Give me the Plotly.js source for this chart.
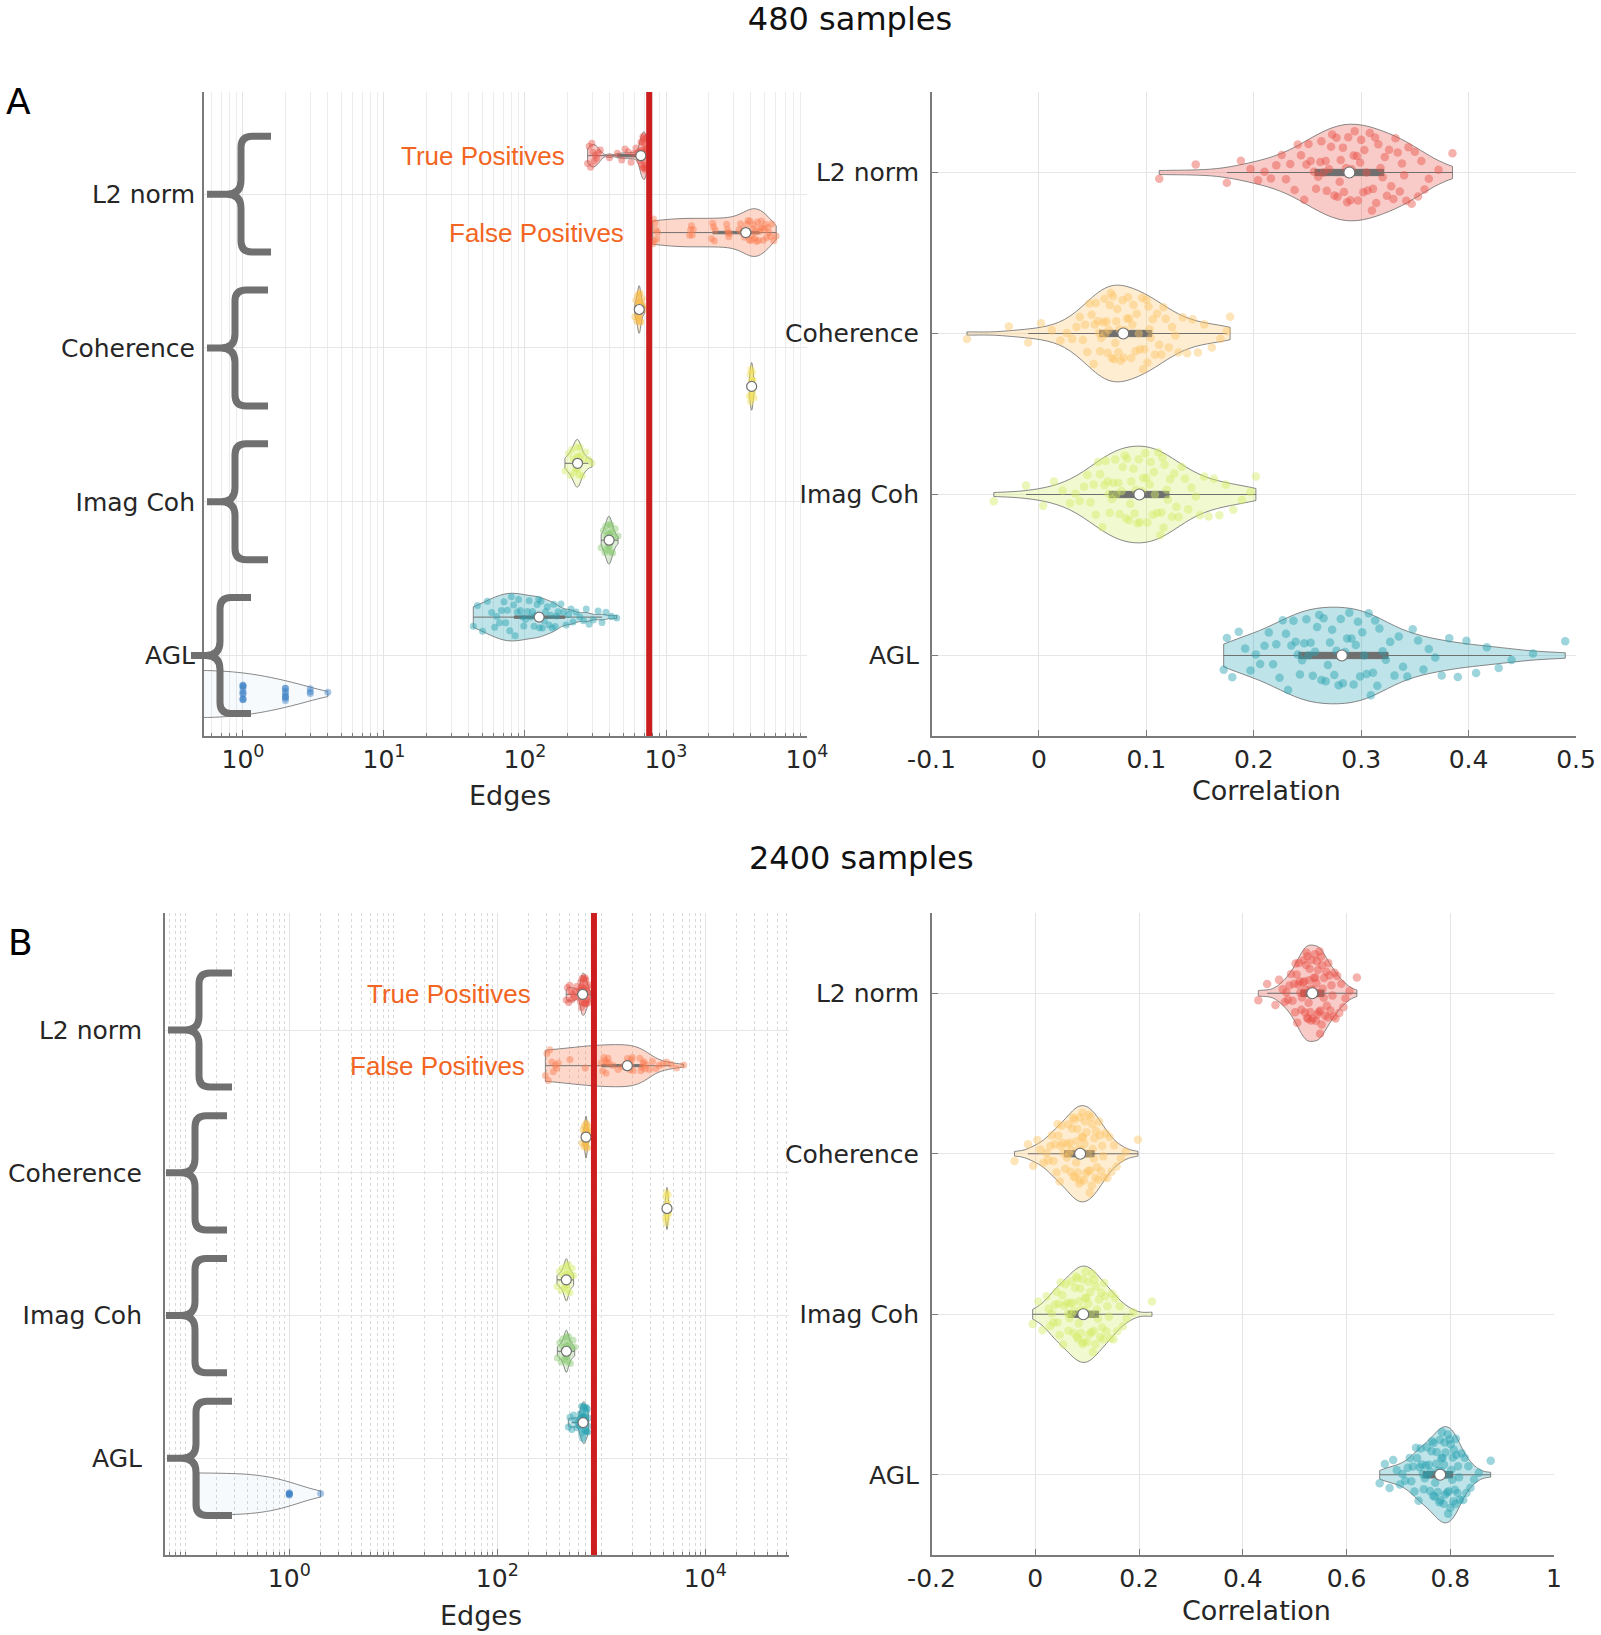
<!DOCTYPE html>
<html><head><meta charset="utf-8">
<script src="https://cdn.plot.ly/plotly-3.0.1.min.js"></script>
<style>html,body{margin:0;padding:0;background:#fff}#chart{width:1601px;height:1635px}</style>
</head><body><div id="chart"></div>
<script>
// ---------------- DATA ----------------
const methods = ['L2 norm', 'Coherence', 'Imag Coh', 'AGL'];
const panelTitles = ['480 samples', '2400 samples'];
const panelLetters = ['A', 'B'];
const tpLabel = 'True Positives';
const fpLabel = 'False Positives';
const edgesTitle = 'Edges';
const corrTitle = 'Correlation';

const edgeTicksA = [1, 10, 100, 1000, 10000];
const edgeTickTextA = ['10<sup>0</sup>', '10<sup>1</sup>', '10<sup>2</sup>', '10<sup>3</sup>', '10<sup>4</sup>'];
const edgeTicksB = [1, 100, 10000];
const edgeTickTextB = ['10<sup>0</sup>', '10<sup>2</sup>', '10<sup>4</sup>'];
const corrTicksA = [-0.1, 0, 0.1, 0.2, 0.3, 0.4, 0.5];
const corrTickTextA = ['-0.1', '0', '0.1', '0.2', '0.3', '0.4', '0.5'];
const corrTicksB = [-0.2, 0, 0.2, 0.4, 0.6, 0.8, 1];
const corrTickTextB = ['-0.2', '0', '0.2', '0.4', '0.6', '0.8', '1'];

const trueEdgesA = 760;
const trueEdgesB = 850;

// Panel A (480 samples): edges, true positives / false positives
const a_tp_l2 = [278,285,292,298,303,309,315,322,330,342,398,452,485,512,538,565,590,612,630,645,
  652,657,661,665,668,672,675,679,682,686,689,692,695,698,701,704,707,710,713,716,719,722,726,730,735,742];
const a_fp_l2 = [805,815,825,835,845,858,870,1470,1495,1515,1535,1560,2110,2145,2175,2205,2235,2690,2725,2755,2785,2815,
  3300,3380,3460,3540,3610,3680,3750,3820,3890,3950,4010,4070,4130,4190,4250,4310,4380,4450,4520,
  4590,4660,4740,4820,4900,4990,5080,5170,5270,5380,5500,5640,5820,6050];
const a_tp_coh = [602,612,620,626,631,635,638,641,643,645,647,649,652,655,659,664,670,678,690,706];
const a_fp_coh = [3900,3950,3980,4000,4020,4035,4050,4065,4080,4100,4120,4150,4210];
const a_tp_ic = [192,203,210,215,220,224,227,230,233,235,237,240,243,246,250,255,262,270,282,299];
const a_fp_ic = [347,360,368,374,379,383,387,390,393,395,397,400,404,408,413,419,427,437,457];
const a_tp_agl = [43,46,50,54,58,61,63,66,68,71,73,75,78,80,83,85,88,90,93,96,
  98,101,104,107,110,113,116,119,122,125,127,130,133,137,140,144,148,152,156,160,164,167,
  172,180,188,196,204,212,219,230,245,260,272,285,305,330,352,375,410,447];
const a_fp_agl = [0,0,0,0,0,0,0,0,0,0,0,0,0,0,0,0,0,0,0,0,0,0,0,1,1,1,1,1,1,1,1,1,1,2,2,2,2,2,2,2,2,3,3,3,4];

// Panel A: correlation
const a_r_l2 = [0.112,0.146,0.175,0.188,0.197,0.204,0.210,0.216,0.221,0.226,0.230,0.234,0.238,0.241,0.244,0.247,0.249,0.251,0.253,0.256,
  0.258,0.260,0.262,0.263,0.265,0.267,0.268,0.270,0.272,0.273,0.275,0.277,0.278,0.280,0.281,0.283,0.284,0.286,0.287,0.288,
  0.290,0.291,0.293,0.294,0.296,0.297,0.299,0.300,0.302,0.303,0.305,0.306,0.308,0.310,0.311,0.313,0.314,0.316,0.318,0.320,
  0.322,0.324,0.326,0.328,0.330,0.332,0.334,0.336,0.338,0.340,0.342,0.344,0.347,0.350,0.353,0.356,0.359,0.363,0.372,0.385];
const a_r_coh = [-0.067,-0.028,-0.010,0.002,0.012,0.020,0.026,0.031,0.035,0.038,0.041,0.043,0.045,0.047,0.049,0.051,0.052,0.053,0.055,0.056,
  0.057,0.058,0.060,0.061,0.062,0.063,0.064,0.065,0.066,0.067,0.068,0.069,0.070,0.071,0.072,0.073,0.074,0.075,0.076,0.078,
  0.079,0.080,0.082,0.083,0.084,0.086,0.087,0.088,0.090,0.091,0.093,0.094,0.096,0.097,0.098,0.100,0.101,0.102,0.103,0.104,
  0.106,0.108,0.110,0.112,0.114,0.116,0.118,0.121,0.124,0.127,0.130,0.134,0.138,0.143,0.148,0.154,0.161,0.169,0.175,0.178];
const a_r_ic = [-0.042,-0.012,0.004,0.014,0.022,0.029,0.034,0.038,0.042,0.045,0.048,0.051,0.053,0.055,0.057,0.059,0.061,0.062,0.064,0.065,
  0.066,0.068,0.069,0.071,0.072,0.074,0.075,0.077,0.078,0.080,0.081,0.082,0.084,0.085,0.086,0.088,0.089,0.090,0.092,0.093,
  0.094,0.096,0.097,0.099,0.100,0.101,0.103,0.104,0.106,0.107,0.108,0.110,0.111,0.113,0.114,0.115,0.116,0.117,0.119,0.120,
  0.122,0.124,0.126,0.128,0.130,0.133,0.136,0.139,0.142,0.146,0.150,0.154,0.158,0.163,0.168,0.174,0.181,0.189,0.197,0.202];
const a_r_agl = [0.172,0.175,0.180,0.186,0.192,0.197,0.202,0.206,0.210,0.214,0.218,0.221,0.224,0.227,0.230,0.232,0.235,0.237,0.239,0.241,
  0.243,0.245,0.247,0.249,0.251,0.253,0.255,0.257,0.259,0.261,0.263,0.265,0.267,0.269,0.271,0.273,0.275,0.277,0.279,0.281,
  0.283,0.285,0.287,0.289,0.291,0.293,0.295,0.297,0.299,0.301,0.303,0.305,0.307,0.309,0.311,0.313,0.315,0.317,0.320,0.323,
  0.327,0.331,0.335,0.339,0.343,0.348,0.353,0.358,0.363,0.369,0.375,0.382,0.390,0.398,0.407,0.417,0.428,0.440,0.460,0.490];

// Panel B (2400 samples): edges
const b_tp_l2 = [460,472,485,497,510,522,535,548,562,578,600,618,630,635,640,644,648,652,656,660,664,668,672,676,
  680,684,688,692,696,700,705,710,715,720,726,732,740,750,765,784];
const b_fp_l2 = [290,300,310,320,335,345,360,372,385,500,700,1000,1030,1060,1090,1110,1135,1160,1185,1300,1450,1600,1750,
  1780,1820,1860,1890,1920,1950,1985,2030,2350,2410,2460,2520,2570,2630,2700,
  2900,3100,3350,3600,3900,4250,4700,5300,6200];
const b_tp_coh = [652,668,680,689,696,701,705,708,711,713,715,718,721,725,730,737,746,758,780];
const b_fp_coh = [4120,4170,4210,4240,4260,4280,4300,4320,4350,4390,4440];
const b_tp_ic = [375,395,410,422,432,440,447,453,458,461,464,469,475,482,490,500,512,526,542];
const b_fp_ic = [378,398,413,425,434,442,449,455,459,462,466,471,477,485,494,505,518,535,555];
const b_tp_agl = [482,500,520,540,560,580,598,615,622,628,634,640,645,650,655,660,664,668,672,676,
  680,684,688,692,696,700,705,710,715,720,726,732,738,744,750];
const b_fp_agl = [0,0,0,0,0,0,0,0,0,0,0,0,0,0,0,0,0,0,0,0,1,1,1,1,1,2];

// Panel B: correlation
const b_r_l2 = [0.430,0.447,0.463,0.470,0.477,0.481,0.484,0.487,0.490,0.493,0.496,0.499,
  0.501,0.502,0.504,0.505,0.507,0.508,0.510,0.511,0.513,0.514,0.516,0.517,0.518,0.519,
  0.520,0.521,0.522,0.523,0.524,0.525,0.526,0.527,0.528,0.529,0.530,0.531,0.532,0.533,0.535,0.536,0.537,0.539,
  0.540,0.541,0.542,0.543,0.544,0.545,0.546,0.547,0.548,0.549,0.550,0.551,0.552,0.553,0.554,0.556,0.557,0.559,
  0.561,0.562,0.564,0.565,0.567,0.569,0.571,0.573,0.575,0.577,0.579,0.582,0.586,0.590,0.594,0.598,0.606,0.620];
const b_r_coh = [-0.040,-0.014,-0.004,0.004,0.010,0.016,0.022,0.025,0.029,0.032,0.035,0.038,
  0.041,0.043,0.045,0.047,0.049,0.051,0.053,0.055,0.058,
  0.061,0.062,0.064,0.065,0.067,0.068,0.070,0.071,0.073,0.074,0.076,0.077,0.079,
  0.080,0.081,0.082,0.084,0.085,0.086,0.087,0.089,0.090,0.091,0.092,0.094,0.095,0.096,0.098,0.099,
  0.101,0.102,0.103,0.105,0.106,0.107,0.109,0.110,0.111,0.113,0.114,0.116,0.117,0.119,
  0.121,0.123,0.125,0.127,0.129,0.131,0.133,0.136,0.139,0.143,0.147,0.152,0.157,0.165,0.174,0.198];
const b_r_ic = [-0.005,0.006,0.014,0.022,0.026,0.029,0.032,0.035,0.038,
  0.041,0.043,0.045,0.047,0.049,0.052,0.054,0.056,0.058,
  0.061,0.063,0.064,0.066,0.067,0.069,0.070,0.072,0.074,0.075,0.077,0.079,
  0.080,0.081,0.083,0.084,0.085,0.087,0.088,0.089,0.091,0.092,0.093,0.095,0.096,0.097,0.099,
  0.100,0.102,0.103,0.104,0.106,0.107,0.108,0.110,0.111,0.113,0.114,0.116,0.117,0.119,
  0.121,0.123,0.125,0.127,0.129,0.131,0.133,0.135,0.137,0.139,
  0.142,0.145,0.148,0.151,0.154,0.158,0.163,0.169,0.176,0.189,0.225];
const b_r_agl = [0.664,0.674,0.683,0.690,0.697,0.703,0.708,0.713,0.718,
  0.722,0.725,0.728,0.731,0.734,0.736,0.739,
  0.741,0.743,0.745,0.747,0.749,0.751,0.753,0.755,0.757,0.759,
  0.761,0.762,0.764,0.765,0.767,0.768,0.770,0.771,0.773,0.774,0.776,0.777,0.779,
  0.780,0.781,0.782,0.783,0.784,0.785,0.787,0.788,0.789,0.790,0.791,0.792,0.794,0.795,0.796,0.797,0.799,
  0.800,0.801,0.802,0.804,0.805,0.806,0.807,0.809,0.810,0.811,0.812,0.814,0.815,0.817,0.819,
  0.822,0.825,0.828,0.831,0.835,0.839,0.846,0.855,0.878];

// ---------------- STYLE ----------------
const W = 1601, H = 1635;
const FONT = 'DejaVu Sans';
const GRAYLINE = 'rgba(115,115,115,0.85)';
const BOXGRAY = '#6f6f6f';
const AXISGRAY = '#7a7a7a';
const colL2 = [232, 82, 72], colL2fp = [250, 125, 80];
const colCoh = [246, 186, 70], colCohFp = [242, 224, 85];
const colCohR = [252, 196, 100];
const colIc = [210, 236, 100], colIcFp = [135, 200, 110];
const colAgl = [40, 162, 178], colAglFp = [60, 128, 198];
const rgba = (c, a) => `rgba(${c[0]},${c[1]},${c[2]},${a})`;

function med(a) {
  const s = [...a].sort((p, q) => p - q), n = s.length;
  return n % 2 ? s[(n - 1) / 2] : (s[n / 2 - 1] + s[n / 2]) / 2;
}

function violin(vals, pos, color, o) {
  const t = {
    type: 'violin', orientation: 'h', x: vals, y0: pos,
    xaxis: o.xa, yaxis: o.ya, width: o.width, side: 'both',
    scalemode: 'width', spanmode: o.span ? 'manual' : 'hard', span: o.span,
    bandwidth: o.bw,
    fillcolor: rgba(color, o.fillA === undefined ? 0.3 : o.fillA),
    line: { color: GRAYLINE, width: 1 },
    points: 'all', pointpos: 0, jitter: 0.9,
    marker: { size: o.ms, color: rgba(color, 0.45), line: { width: 0 } },
    box: { visible: o.box !== false, width: o.boxW, fillcolor: BOXGRAY, line: { color: BOXGRAY, width: 1 } },
    meanline: { visible: false },
    hoverinfo: 'skip', showlegend: false
  };
  if (o.logAxis) {
    // zero counts cannot be placed on a log axis: keep them for the density, hide their dots
    const keep = [];
    vals.forEach((v, i) => { if (v > 0) keep.push(i); });
    if (keep.length < vals.length) {
      t.selectedpoints = keep;
      t.selected = { marker: { opacity: 1 } };
      t.unselected = { marker: { opacity: 0 } };
    }
  }
  return t;
}

const traces = [];
const leftRows = [1, 2, 3, 4, 5, 6, 7, 8];
const leftColors = [colL2, colL2fp, colCoh, colCohFp, colIc, colIcFp, colAgl, colAglFp];
const leftA = [a_tp_l2, a_fp_l2, a_tp_coh, a_fp_coh, a_tp_ic, a_fp_ic, a_tp_agl, a_fp_agl];
const leftB = [b_tp_l2, b_fp_l2, b_tp_coh, b_fp_coh, b_tp_ic, b_fp_ic, b_tp_agl, b_fp_agl];
const bwA = [18, 600, 12, 60, 9, 14, 14, 0.9];
const bwB = [15, 550, 12, 50, 14, 15, 15, 0.7];

function addLeft(sets, bws, xa, ya, lastSpan, width) {
  const mx = [], my = [];
  sets.forEach((vals, i) => {
    const last = i === 7;
    traces.push(violin(vals, leftRows[i], leftColors[i], {
      xa, ya, width, bw: bws[i], ms: 7, boxW: 0.05, logAxis: true,
      span: last ? lastSpan : undefined, box: !last, fillA: last ? 0.04 : 0.3
    }));
    const m = med(vals);
    if (m > 0) { mx.push(m); my.push(leftRows[i]); }
  });
  traces.push({ type: 'scatter', mode: 'markers', x: mx, y: my, xaxis: xa, yaxis: ya,
    marker: { color: 'white', size: 10, line: { color: BOXGRAY, width: 1.2 } }, hoverinfo: 'skip', showlegend: false });
}
function addRight(sets, colors, bws, xa, ya) {
  const mx = [], my = [];
  sets.forEach((vals, i) => {
    traces.push(violin(vals, i + 1, colors[i], { xa, ya, width: 0.6, bw: bws[i], ms: 8.5, boxW: 0.065 }));
    mx.push(med(vals)); my.push(i + 1);
  });
  traces.push({ type: 'scatter', mode: 'markers', x: mx, y: my, xaxis: xa, yaxis: ya,
    marker: { color: 'white', size: 11, line: { color: BOXGRAY, width: 1.2 } }, hoverinfo: 'skip', showlegend: false });
}

addLeft(leftA, bwA, 'x', 'y', [0.4, 4], 0.62);
addRight([a_r_l2, a_r_coh, a_r_ic, a_r_agl], [colL2, colCohR, colIc, colAgl], [0.018, 0.016, 0.018, 0.02], 'x2', 'y2');
addLeft(leftB, bwB, 'x3', 'y3', [0.135, 2], 0.59);
addRight([b_r_l2, b_r_coh, b_r_ic, b_r_agl], [colL2, colCohR, colIc, colAgl], [0.01, 0.014, 0.014, 0.012], 'x4', 'y4');

// ---------------- LAYOUT ----------------
const tickFont = { family: FONT, size: 25, color: '#262626' };
const base = {
  showline: true, linecolor: AXISGRAY, linewidth: 1.5, mirror: false, zeroline: false,
  ticks: 'inside', ticklen: 6, tickcolor: AXISGRAY, tickfont: tickFont,
  showgrid: true, gridcolor: '#e4e4e4', gridwidth: 1, automargin: false, fixedrange: true
};
const fx = p => p / W, fy = p => 1 - p / H;
const domAy = [fy(736), fy(92)], domBy = [fy(1555), fy(913)];

function logAxis(dom, range, tv, tt, minorDash, anchor) {
  return Object.assign({}, base, {
    type: 'log', domain: dom, range, anchor, tickmode: 'array', tickvals: tv, ticktext: tt,
    minor: { tickmode: 'linear', dtick: 'D1', ticks: 'inside', ticklen: 3, tickcolor: AXISGRAY,
      showgrid: true, gridcolor: minorDash ? '#d9d9d9' : '#ececec', griddash: minorDash ? 'dot' : 'solid' }
  });
}
function linAxis(dom, range, tv, tt, anchor) {
  return Object.assign({}, base, { type: 'linear', domain: dom, range, anchor,
    tickmode: 'array', tickvals: tv, ticktext: tt });
}
function catAxis(dom, range, tv, anchor, standoff, ticks) {
  return Object.assign({}, base, { type: 'linear', domain: dom, range, anchor,
    tickmode: 'array', tickvals: tv, ticktext: methods, ticks, ticklabelstandoff: standoff, gridcolor: '#e6e6e6' });
}
function textAnn(text, xPx, yPx, size, color, xanchor) {
  return { text, xref: 'paper', yref: 'paper', x: fx(xPx), y: fy(yPx), xanchor: xanchor || 'center', yanchor: 'middle',
    showarrow: false, font: { family: FONT, size, color } };
}
const orange = 'rgb(242,101,34)';
function groupAnn(text, xa, ya, xd, row) {
  return { text, xref: xa + ' domain', yref: ya, x: xd, y: row, xanchor: 'right', yanchor: 'middle', showarrow: false,
    font: { family: 'Liberation Sans', size: 26, color: orange } };
}

const layout = {
  width: W, height: H, margin: { l: 0, r: 0, t: 0, b: 0 },
  paper_bgcolor: '#fff', plot_bgcolor: '#fff', violinmode: 'overlay', showlegend: false,
  title: { text: panelTitles[0], x: fx(850), xanchor: 'center', y: fy(19), yanchor: 'middle',
    font: { family: FONT, size: 32, color: '#111' } },
  xaxis: logAxis([fx(203.5), fx(807)], [-0.28, 4], edgeTicksA, edgeTickTextA, false, 'y'),
  yaxis: catAxis(domAy, [8.546, 0.172], [1.5, 3.5, 5.5, 7.5], 'x', 2, ''),
  xaxis2: linAxis([fx(931.5), fx(1576)], [-0.1, 0.5], corrTicksA, corrTickTextA, 'y2'),
  yaxis2: catAxis(domAy, [4.5, 0.5], [1, 2, 3, 4], 'x2', 6, 'inside'),
  xaxis3: logAxis([fx(164.5), fx(788.5)], [-1.2, 4.8], edgeTicksB, edgeTickTextB, true, 'y3'),
  yaxis3: catAxis(domBy, [8.854, -0.139], [1.5, 3.5, 5.5, 7.5], 'x3', 16, ''),
  xaxis4: linAxis([fx(931.5), fx(1554)], [-0.2, 1], corrTicksB, corrTickTextB, 'y4'),
  yaxis4: catAxis(domBy, [4.5, 0.5], [1, 2, 3, 4], 'x4', 6, 'inside'),
  annotations: [
    textAnn(panelTitles[1], 861, 858, 32, '#111'),
    textAnn(panelLetters[0], 4, 101, 36, '#000', 'left'),
    textAnn(panelLetters[1], 6, 942, 36, '#000', 'left'),
    textAnn(edgesTitle, 510, 796, 27, '#262626'),
    textAnn(corrTitle, 1266, 790, 27, '#262626'),
    textAnn(edgesTitle, 481, 1615, 27, '#262626'),
    textAnn(corrTitle, 1256, 1610, 27, '#262626'),
    groupAnn(tpLabel, 'x', 'y', 0.6023, 1),
    groupAnn(fpLabel, 'x', 'y', 0.700, 2),
    groupAnn(tpLabel, 'x3', 'y3', 0.5905, 1),
    groupAnn(fpLabel, 'x3', 'y3', 0.581, 2)
  ],
  shapes: []
};

// true-edge reference lines (log axis: shape coordinates are data values in Plotly v3)
layout.shapes.push({ type: 'line', xref: 'x', yref: 'y domain', x0: trueEdgesA, x1: trueEdgesA,
  y0: 0, y1: 1, line: { color: 'rgb(204,30,30)', width: 6 }, layer: 'above' });
layout.shapes.push({ type: 'line', xref: 'x3', yref: 'y3 domain', x0: trueEdgesB, x1: trueEdgesB,
  y0: 0, y1: 1, line: { color: 'rgb(204,30,30)', width: 6 }, layer: 'above' });

// curly braces grouping TP / FP rows of each method
function bracePath(cx, vx, tx, c, h, unitPx) {
  const rx = 11, ry = 11 / unitPx, sx = 14, sy = 14 / unitPx;
  const X = p => (p / W).toFixed(5);
  return `M${X(tx)},${c - h} L${X(vx + rx)},${c - h} Q${X(vx)},${c - h} ${X(vx)},${c - h + ry} ` +
    `L${X(vx)},${c - sy} Q${X(vx)},${c} ${X(vx - sx)},${c} L${X(cx)},${c} ` +
    `M${X(vx - sx)},${c} Q${X(vx)},${c} ${X(vx)},${c + sy} L${X(vx)},${c + h - ry} ` +
    `Q${X(vx)},${c + h} ${X(vx + rx)},${c + h} L${X(tx)},${c + h}`;
}
const braceGeomA = [[207, 241, 271], [207, 235, 268], [207, 235, 268], [191, 220, 251]];
const braceGeomB = [[168, 199, 232], [166, 195, 227], [166, 195, 227], [167, 196, 232]];
const groupCenters = [1.5, 3.5, 5.5, 7.5];
groupCenters.forEach((c, i) => {
  const a = braceGeomA[i], b = braceGeomB[i];
  layout.shapes.push({ type: 'path', xref: 'paper', yref: 'y', path: bracePath(a[0], a[1], a[2], c, 0.754, 76.9),
    line: { color: 'rgb(112,112,112)', width: 7 }, layer: 'above' });
  layout.shapes.push({ type: 'path', xref: 'paper', yref: 'y3', path: bracePath(b[0], b[1], b[2], c, 0.80, 71.4),
    line: { color: 'rgb(112,112,112)', width: 7 }, layer: 'above' });
});

Plotly.newPlot('chart', traces, layout, { staticPlot: true, displayModeBar: false });
</script>
</body></html>
